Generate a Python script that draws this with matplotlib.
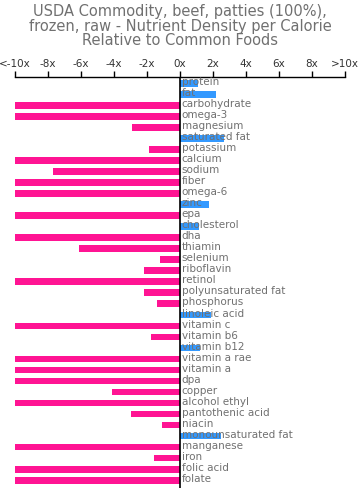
import numpy as np
import matplotlib
matplotlib.use('Agg')
import matplotlib.pyplot as plt

# Nutrient names, top to bottom
nutrients = ['protein', 'fat', 'carbohydrate', 'omega-3', 'magnesium', 'saturated fat',
             'potassium', 'calcium', 'sodium', 'fiber', 'omega-6', 'zinc', 'epa',
             'cholesterol', 'dha', 'thiamin', 'selenium', 'riboflavin', 'retinol',
             'polyunsaturated fat', 'phosphorus', 'linoleic acid', 'vitamin c',
             'vitamin b6', 'vitamin b12', 'vitamin a rae', 'vitamin a', 'dpa', 'copper',
             'alcohol ethyl', 'pantothenic acid', 'niacin', 'monounsaturated fat',
             'manganese', 'iron', 'folic acid', 'folate']

# Relative density (x), clipped at +/-10
density = [1.1, 2.2, -10, -10, -2.9, 2.65,
           -1.85, -10, -7.7, -10, -10, 1.75, -10,
           1.15, -10, -6.15, -1.2, -2.2, -10,
           -2.2, -1.4, 1.9, -10,
           -1.75, 1.2, -10, -10, -10, -4.1,
           -10, -2.95, -1.1, 2.5,
           -10, -1.6, -10, -10]

tick_vals = [-10, -8, -6, -4, -2, 0, 2, 4, 6, 8, 10]
tick_labels = ['<-10x', '-8x', '-6x', '-4x', '-2x', '0x', '2x', '4x', '6x', '8x', '>10x']

W, H = 360, 498
fig = plt.figure(figsize=(W / 100, H / 100), dpi=100)

# axes placed in pixel terms
left, right, top, bottom = 15, 345, 77, 487.5
ax = fig.add_axes([left / W, 1 - bottom / H, (right - left) / W, (bottom - top) / H])

pos = np.arange(len(nutrients))
colors = ['#ff1493' if v < 0 else '#3399ff' for v in density]
ax.barh(pos, density, height=0.6, color=colors, zorder=1)

for i, name in enumerate(nutrients):
    ax.text(0.1, i - 0.12, name, color='#707070', fontsize=7.5, va='center', ha='left', zorder=3)

ax.axvline(0, color='black', lw=1.2, zorder=2)

ax.set_xlim(-10, 10)
ax.set_ylim(len(nutrients) - 1 + 0.66, -0.57)
ax.set_yticks([])
ax.xaxis.tick_top()
ax.set_xticks(tick_vals)
ax.set_xticklabels(tick_labels, fontsize=7.5, color='#333333')
ax.tick_params(axis='x', length=4, width=1, pad=2, color='black')
for s in ['left', 'right', 'bottom']:
    ax.spines[s].set_visible(False)
ax.spines['top'].set_linewidth(1)

fig.text(0.5, 1 - 26 / H,
         'USDA Commodity, beef, patties (100%),\nfrozen, raw - Nutrient Density per Calorie\nRelative to Common Foods',
         ha='center', va='center', fontsize=10.5, color='#707070', linespacing=0.95)

fig.savefig('out.png', dpi=100)
